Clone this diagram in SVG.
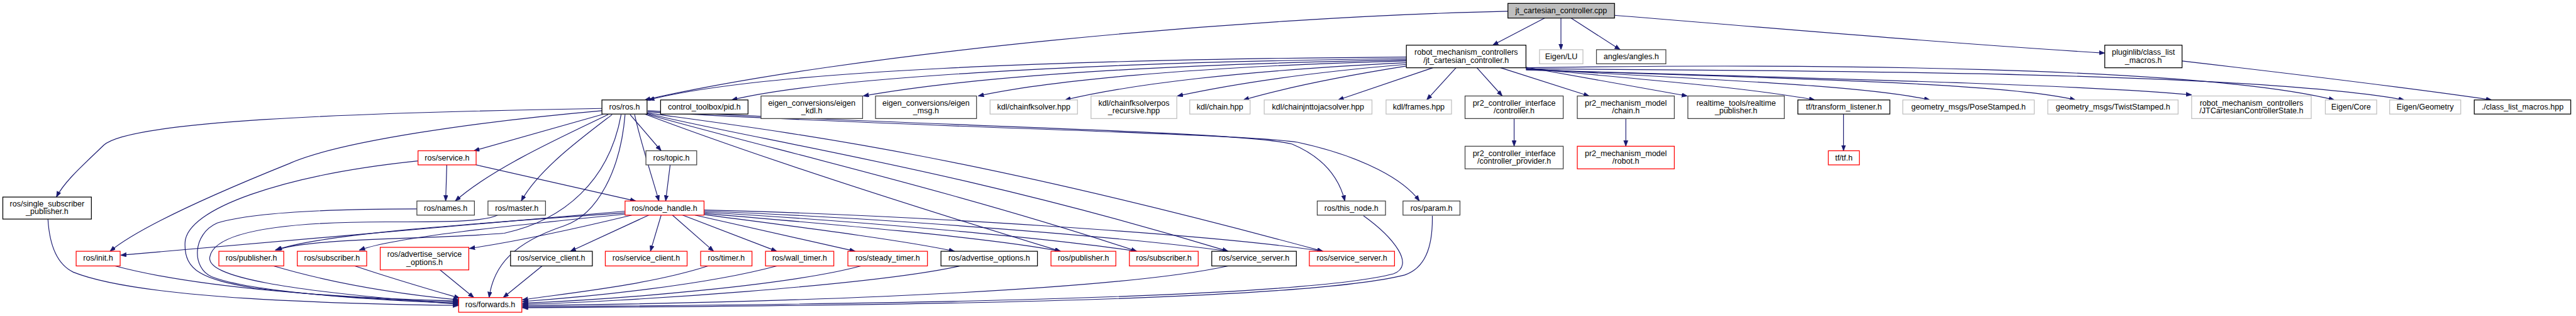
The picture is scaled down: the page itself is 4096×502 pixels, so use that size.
<svg xmlns="http://www.w3.org/2000/svg" width="4096" height="502" viewBox="0 0 4096 502">
<style>
.n rect{fill:#fff;stroke-width:1.4}
.b rect{stroke:#000}
.d rect{stroke:#404040}
.l rect{stroke:#bfbfbf}
.r rect{stroke:#ff0000}
.g rect{fill:#bfbfbf;stroke:#000}
.n text{font-family:"Liberation Sans",Arial,sans-serif;font-size:14px;fill:#000;text-anchor:middle}
#edges path{fill:none;stroke:#191970;stroke-width:1.3;marker-end:url(#arr)}
</style>
<defs>
<marker id="arr" markerUnits="userSpaceOnUse" markerWidth="11" markerHeight="8" refX="10" refY="3.75" orient="auto">
<path d="M0,0 L10,3.75 L0,7.5 z" fill="#191970" stroke="#191970" stroke-width="0.8"/>
</marker>
</defs>
<rect width="4096" height="502" fill="#fff"/>
<g transform="scale(0.897)">
<g id="edges">
<path d="M2738,32 L2646,80"/>
<path d="M2767,32 L2767,88"/>
<path d="M2785,32 L2872,88"/>
<path d="M2862,27 C3200,55 3500,80 3731,94"/>
<path d="M2673,20 C2200,30 1500,95 1143,177"/>
<path d="M2493,101 C1900,105 1350,125 1150,177"/>
<path d="M2493,104 C1900,110 1450,140 1297,177"/>
<path d="M2493,106 C2000,115 1700,140 1530,170"/>
<path d="M2493,108 C2100,118 1850,145 1734,170"/>
<path d="M2493,111 C2200,125 2000,150 1888,177"/>
<path d="M2493,114 C2300,130 2180,150 2087,170"/>
<path d="M2493,117 C2380,135 2280,155 2204,177"/>
<path d="M2540,120 L2372,177"/>
<path d="M2581,120 L2529,177"/>
<path d="M2618,120 L2663,170"/>
<path d="M2660,120 L2817,170"/>
<path d="M2705,119 L2991,170"/>
<path d="M2705,121 C2900,140 3100,155 3217,177"/>
<path d="M2705,122 C3000,140 3300,150 3421,177"/>
<path d="M2705,123 C3100,138 3550,145 3679,177"/>
<path d="M2705,124 C3200,138 3700,150 3885,168"/>
<path d="M2705,120 C3200,112 3900,118 4138,177"/>
<path d="M2705,122 C3300,125 4000,130 4262,177"/>
<path d="M3868,108 C4100,135 4300,160 4417,177"/>
<path d="M2684,210 L2684,259"/>
<path d="M2882,210 L2882,259"/>
<path d="M3268,202 L3268,267"/>
<path d="M1067,192 C600,200 230,215 184,257 C150,290 115,320 100,349"/>
<path d="M1067,196 C850,215 600,250 512,290 C400,335 250,400 195,445"/>
<path d="M1070,202 L840,267"/>
<path d="M1078,203 C990,245 870,300 807,356"/>
<path d="M1085,203 C1030,245 955,300 924,356"/>
<path d="M1108,203 C1100,300 1060,380 1000,400 C910,430 875,470 867,527"/>
<path d="M1101,203 C1080,320 1000,390 894,413 C750,425 560,420 488,443"/>
<path d="M1117,203 L1172,267"/>
<path d="M1125,203 C1135,250 1155,310 1168,356"/>
<path d="M1188,292 L1180,356"/>
<path d="M1143,202 C1350,280 1600,360 1880,445"/>
<path d="M1146,202 C1350,260 1700,340 2015,445"/>
<path d="M1147,201 C1350,250 1700,300 2177,445"/>
<path d="M1147,200 C1400,235 1700,270 2345,445"/>
<path d="M1148,196 C1600,222 2200,232 2290,255 C2350,280 2375,320 2384,356"/>
<path d="M1148,198 C1600,225 2200,236 2300,252 C2420,278 2490,320 2516,356"/>
<path d="M792,292 L790,356"/>
<path d="M844,292 L1127,356"/>
<path d="M741,285 C500,310 330,370 328,430 C326,480 360,495 450,510 C600,528 720,532 813,535"/>
<path d="M739,370 C600,370 450,375 385,395 C340,415 340,475 375,490 C450,520 700,533 813,537"/>
<path d="M882,381 C860,392 800,393 700,393 C500,392 380,410 372,455 C365,490 500,515 813,539"/>
<path d="M85,388 C88,440 105,470 130,482 C250,530 600,538 813,541"/>
<path d="M204,471 C350,510 600,528 813,533"/>
<path d="M485,471 C600,505 720,522 813,531"/>
<path d="M629,471 C700,495 770,515 815,528"/>
<path d="M780,478 L840,527"/>
<path d="M961,471 L892,527"/>
<path d="M1255,471 C1150,505 1000,520 926,531"/>
<path d="M1377,471 C1250,505 1050,525 926,534"/>
<path d="M1526,471 C1400,505 1100,530 926,537"/>
<path d="M1702,471 C1550,505 1100,535 926,539"/>
<path d="M2177,471 C2000,510 1500,535 926,541"/>
<path d="M2417,382 C2470,420 2510,470 2470,485 C2300,530 1500,540 926,543"/>
<path d="M2539,382 C2540,440 2525,475 2490,487 C2300,535 1500,542 926,545"/>
<path d="M1108,374 L214,452"/>
<path d="M1108,377 C850,395 560,415 490,443"/>
<path d="M1110,379 C900,400 700,420 637,443"/>
<path d="M1120,381 C1000,410 900,430 832,440"/>
<path d="M1150,381 L1011,445"/>
<path d="M1172,381 L1153,445"/>
<path d="M1192,381 L1265,445"/>
<path d="M1210,381 L1377,445"/>
<path d="M1232,381 L1516,445"/>
<path d="M1248,380 C1400,400 1600,425 1692,445"/>
<path d="M1248,378 C1450,395 1750,420 1880,445"/>
<path d="M1248,376 C1500,390 1850,420 2015,445"/>
<path d="M1248,374 C1550,385 2000,420 2177,445"/>
<path d="M1248,372 C1600,380 2150,415 2345,445"/>
</g>
<g id="n_cpp" class="n g"><rect x="2673" y="6" width="189" height="26"/><text x="2767.5" y="23.5">jt_cartesian_controller.cpp</text></g>
<g id="n_H" class="n b"><rect x="2493" y="80" width="212" height="40"/><text x="2599" y="97">robot_mechanism_controllers</text><text x="2599" y="111">/jt_cartesian_controller.h</text></g>
<g id="n_LU" class="n l"><rect x="2729" y="88" width="77" height="25"/><text x="2767.5" y="105">Eigen/LU</text></g>
<g id="n_angles" class="n d"><rect x="2830" y="88" width="123" height="25"/><text x="2891.5" y="105">angles/angles.h</text></g>
<g id="n_plugin" class="n b"><rect x="3731" y="80" width="137" height="40"/><text x="3799.5" y="97">pluginlib/class_list</text><text x="3799.5" y="111">_macros.h</text></g>
<g id="n_clm" class="n b"><rect x="4386" y="177" width="171" height="25"/><text x="4471.5" y="194">./class_list_macros.hpp</text></g>
<g id="n_ros" class="n b"><rect x="1067" y="177" width="80" height="25"/><text x="1107" y="194">ros/ros.h</text></g>
<g id="n_pid" class="n b"><rect x="1171" y="177" width="155" height="25"/><text x="1248.5" y="194">control_toolbox/pid.h</text></g>
<g id="n_ekdl" class="n d"><rect x="1349" y="170" width="180" height="40"/><text x="1439" y="187">eigen_conversions/eigen</text><text x="1439" y="201">_kdl.h</text></g>
<g id="n_emsg" class="n d"><rect x="1552" y="170" width="179" height="40"/><text x="1641.5" y="187">eigen_conversions/eigen</text><text x="1641.5" y="201">_msg.h</text></g>
<g id="n_cfk" class="n l"><rect x="1755" y="177" width="155" height="25"/><text x="1832.5" y="194">kdl/chainfksolver.hpp</text></g>
<g id="n_cfkp" class="n l"><rect x="1934" y="170" width="152" height="40"/><text x="2010" y="187">kdl/chainfksolverpos</text><text x="2010" y="201">_recursive.hpp</text></g>
<g id="n_chain" class="n l"><rect x="2109" y="177" width="107" height="25"/><text x="2162.5" y="194">kdl/chain.hpp</text></g>
<g id="n_cjj" class="n l"><rect x="2241" y="177" width="191" height="25"/><text x="2336.5" y="194">kdl/chainjnttojacsolver.hpp</text></g>
<g id="n_frames" class="n l"><rect x="2457" y="177" width="116" height="25"/><text x="2515" y="194">kdl/frames.hpp</text></g>
<g id="n_ctrl" class="n d"><rect x="2597" y="170" width="174" height="40"/><text x="2684" y="187">pr2_controller_interface</text><text x="2684" y="201">/controller.h</text></g>
<g id="n_pchain" class="n d"><rect x="2796" y="170" width="172" height="40"/><text x="2882" y="187">pr2_mechanism_model</text><text x="2882" y="201">/chain.h</text></g>
<g id="n_rt" class="n d"><rect x="2992" y="170" width="171" height="40"/><text x="3077.5" y="187">realtime_tools/realtime</text><text x="3077.5" y="201">_publisher.h</text></g>
<g id="n_tfl" class="n b"><rect x="3187" y="177" width="163" height="25"/><text x="3268.5" y="194">tf/transform_listener.h</text></g>
<g id="n_pose" class="n l"><rect x="3373" y="177" width="233" height="25"/><text x="3489.5" y="194">geometry_msgs/PoseStamped.h</text></g>
<g id="n_twist" class="n l"><rect x="3630" y="177" width="231" height="25"/><text x="3745.5" y="194">geometry_msgs/TwistStamped.h</text></g>
<g id="n_jts" class="n l"><rect x="3885" y="170" width="212" height="40"/><text x="3991" y="187">robot_mechanism_controllers</text><text x="3991" y="201">/JTCartesianControllerState.h</text></g>
<g id="n_core" class="n l"><rect x="4122" y="177" width="91" height="25"/><text x="4167.5" y="194">Eigen/Core</text></g>
<g id="n_geom" class="n l"><rect x="4236" y="177" width="126" height="25"/><text x="4299" y="194">Eigen/Geometry</text></g>
<g id="n_prov" class="n d"><rect x="2597" y="259" width="174" height="40"/><text x="2684" y="276">pr2_controller_interface</text><text x="2684" y="290">/controller_provider.h</text></g>
<g id="n_robot" class="n r"><rect x="2796" y="259" width="172" height="40"/><text x="2882" y="276">pr2_mechanism_model</text><text x="2882" y="290">/robot.h</text></g>
<g id="n_tf" class="n r"><rect x="3241" y="267" width="55" height="25"/><text x="3268.5" y="284">tf/tf.h</text></g>
<g id="n_service" class="n r"><rect x="741" y="267" width="103" height="25"/><text x="792.5" y="284">ros/service.h</text></g>
<g id="n_topic" class="n d"><rect x="1145" y="267" width="90" height="25"/><text x="1190" y="284">ros/topic.h</text></g>
<g id="n_ssp" class="n b"><rect x="5" y="349" width="157" height="39"/><text x="83.5" y="365.5">ros/single_subscriber</text><text x="83.5" y="379.5">_publisher.h</text></g>
<g id="n_names" class="n d"><rect x="739" y="356" width="102" height="25"/><text x="790" y="373">ros/names.h</text></g>
<g id="n_master" class="n d"><rect x="865" y="356" width="102" height="25"/><text x="916" y="373">ros/master.h</text></g>
<g id="n_nh" class="n r"><rect x="1108" y="356" width="140" height="25"/><text x="1178" y="373">ros/node_handle.h</text></g>
<g id="n_thisnode" class="n d"><rect x="2335" y="356" width="121" height="25"/><text x="2395.5" y="373">ros/this_node.h</text></g>
<g id="n_param" class="n d"><rect x="2487" y="356" width="101" height="25"/><text x="2537.5" y="373">ros/param.h</text></g>
<g id="n_init" class="n r"><rect x="135" y="445" width="78" height="26"/><text x="174" y="462">ros/init.h</text></g>
<g id="n_pub1" class="n r"><rect x="388" y="445" width="115" height="26"/><text x="445.5" y="462">ros/publisher.h</text></g>
<g id="n_sub1" class="n r"><rect x="527" y="445" width="123" height="26"/><text x="588.5" y="462">ros/subscriber.h</text></g>
<g id="n_aso" class="n r"><rect x="674" y="438" width="157" height="40"/><text x="752.5" y="455">ros/advertise_service</text><text x="752.5" y="469">_options.h</text></g>
<g id="n_sc1" class="n b"><rect x="905" y="445" width="145" height="26"/><text x="977.5" y="462">ros/service_client.h</text></g>
<g id="n_sc2" class="n r"><rect x="1073" y="445" width="145" height="26"/><text x="1145.5" y="462">ros/service_client.h</text></g>
<g id="n_timer" class="n r"><rect x="1242" y="445" width="91" height="26"/><text x="1287.5" y="462">ros/timer.h</text></g>
<g id="n_wt" class="n r"><rect x="1357" y="445" width="121" height="26"/><text x="1417.5" y="462">ros/wall_timer.h</text></g>
<g id="n_st" class="n r"><rect x="1503" y="445" width="141" height="26"/><text x="1573.5" y="462">ros/steady_timer.h</text></g>
<g id="n_ao" class="n b"><rect x="1668" y="445" width="171" height="26"/><text x="1753.5" y="462">ros/advertise_options.h</text></g>
<g id="n_pub2" class="n r"><rect x="1863" y="445" width="115" height="26"/><text x="1920.5" y="462">ros/publisher.h</text></g>
<g id="n_sub2" class="n r"><rect x="2002" y="445" width="122" height="26"/><text x="2063" y="462">ros/subscriber.h</text></g>
<g id="n_ss1" class="n b"><rect x="2148" y="445" width="150" height="26"/><text x="2223" y="462">ros/service_server.h</text></g>
<g id="n_ss2" class="n r"><rect x="2321" y="445" width="151" height="26"/><text x="2396.5" y="462">ros/service_server.h</text></g>
<g id="n_fwd" class="n r"><rect x="813" y="527" width="112" height="26"/><text x="869" y="544">ros/forwards.h</text></g>
</g>
</svg>
